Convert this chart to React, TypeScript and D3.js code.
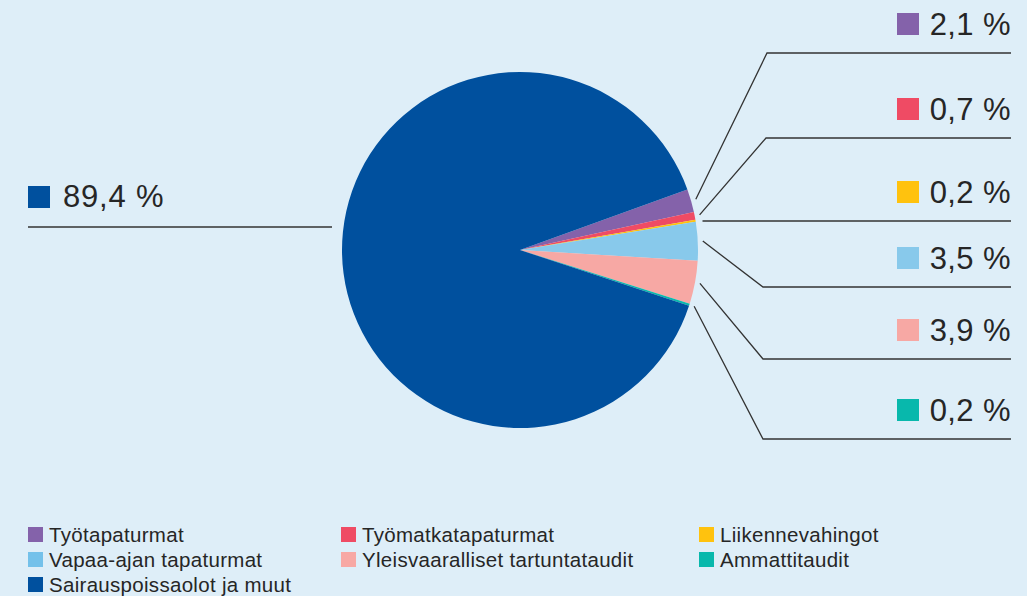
import React from "react";
import * as d3 from "d3";

const categories = [
  "Työtapaturmat",
  "Työmatkatapaturmat",
  "Liikennevahingot",
  "Vapaa-ajan tapaturmat",
  "Yleisvaaralliset tartuntataudit",
  "Ammattitaudit",
  "Sairauspoissaolot ja muut",
];
const shares = [2.1, 0.7, 0.2, 3.5, 3.9, 0.2, 89.4];
const colors = ["#8462AA", "#EF4B64", "#FFC20E", "#88C9EB", "#F7A8A4", "#08B8AC", "#00509E"];
const legendColors = ["#8462AA", "#EF4B64", "#FFC20E", "#74C1EA", "#F7A8A4", "#08B8AC", "#00509E"];

// layout
const W = 1027, H = 596;
const cx = 520, cy = 250, R = 178;
const startDeg = 70.1;
const rightLineY = [53, 138, 221, 287, 359, 439];
const elbowX = [767, 766, null, 763, 763, 763];
const lineEndX = 1011;
const fontFam = "'Liberation Sans', Arial, sans-serif";
const textColor = "#262626";

const fmt = (v: number) => d3.format(".1f")(v).replace(".", ",") + " %";

export default function App() {
  const pie = d3
    .pie<number>()
    .sort(null)
    .value((d) => d)
    .startAngle((startDeg * Math.PI) / 180)
    .endAngle((startDeg * Math.PI) / 180 + 2 * Math.PI);
  const arcs = pie(shares);
  const arc = d3.arc<d3.PieArcDatum<number>>().innerRadius(0).outerRadius(R);

  const pt = (a: number, r: number) => [cx + r * Math.sin(a), cy - r * Math.cos(a)];

  return (
    <svg width={W} height={H} style={{ position: "absolute", left: 0, top: 0, background: "#DEEEF8" }}>
      <rect x={0} y={0} width={W} height={H} fill="#DEEEF8" />
      <g transform={`translate(${cx},${cy})`}>
        {arcs.map((a, i) => (
          <path key={i} d={arc(a) || ""} fill={colors[i]} stroke="none" />
        ))}
      </g>
      {/* right labels */}
      {arcs.slice(0, 6).map((a, i) => {
        const mid = (a.startAngle + a.endAngle) / 2;
        const [sx, sy] = pt(mid, 183);
        const ly = rightLineY[i];
        const ex = elbowX[i];
        const pts = ex == null ? `${sx + 2},${ly} ${lineEndX},${ly}` : `${sx},${sy} ${ex},${ly} ${lineEndX},${ly}`;
        const base = ly - 18;
        return (
          <g key={i}>
            <polyline points={pts} fill="none" stroke="#333" strokeWidth={1.3} />
            <rect x={897} y={base - 22} width={22} height={22} fill={colors[i]} />
            <text x={lineEndX} y={base} textAnchor="end" fontFamily={fontFam} fontSize={31} letterSpacing={0.4} fill={textColor}>
              {fmt(shares[i])}
            </text>
          </g>
        );
      })}
      {/* left label */}
      <line x1={28} x2={332} y1={227} y2={227} stroke="#333" strokeWidth={1.3} />
      <rect x={28} y={186} width={22} height={22} fill={colors[6]} />
      <text x={63} y={207} fontFamily={fontFam} fontSize={31} letterSpacing={0.8} fill={textColor}>
        {fmt(shares[6])}
      </text>
      {/* legend */}
      {categories.map((c, i) => {
        const col = i % 3;
        const row = Math.floor(i / 3);
        const x = [28, 341, 699][col];
        const y = 542 + row * 25;
        return (
          <g key={c}>
            <rect x={x} y={y - 15} width={15} height={15} fill={legendColors[i]} />
            <text x={x + 21} y={y} fontFamily={fontFam} fontSize={20.5} letterSpacing={0.3} fill={textColor}>
              {c}
            </text>
          </g>
        );
      })}
    </svg>
  );
}
